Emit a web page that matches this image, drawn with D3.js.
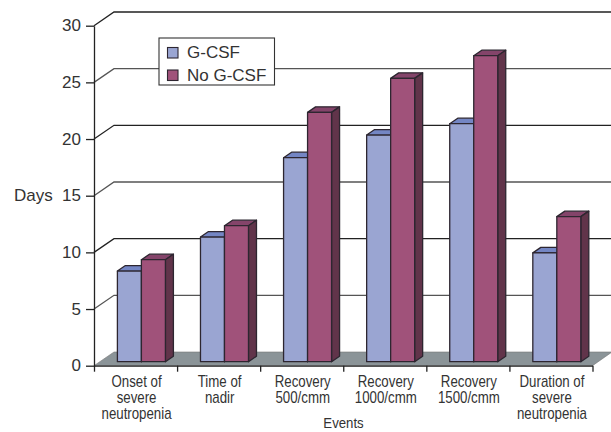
<!DOCTYPE html>
<html><head><meta charset="utf-8">
<script src="https://cdn.jsdelivr.net/npm/d3@7"></script>
<style>html,body{margin:0;padding:0;background:#fff}svg{display:block}text{font-family:"Liberation Sans",Arial,sans-serif;fill:#333}</style>
</head><body><div id="c"></div>
<script>
const categories = [["Onset of","severe","neutropenia"],["Time of","nadir"],["Recovery","500/cmm"],["Recovery","1000/cmm"],["Recovery","1500/cmm"],["Duration of","severe","neutropenia"]];
const gcsf = [8,11,18,20,21,9.6];
const noGcsf = [9,12,22,25,27,12.8];
const yTicks = [0,5,10,15,20,25,30];
const seriesNames = ["G-CSF","No G-CSF"];
const palette = [{front:"#9aa5d2",top:"#7486c4",side:"#7486c4"},{front:"#a0527a",top:"#84446a",side:"#61344a"}];

const W=611,H=432,x0=94,x1=592.5,yB=365.7,yT=25.7,wallDx=20,wallDy=13.7;
const svg=d3.select("#c").append("svg").attr("width",W).attr("height",H);
const y=d3.scaleLinear().domain([0,30]).range([yB,yT]);
const x=d3.scaleBand().domain(d3.range(categories.length)).range([x0,x1]).paddingInner(0);
const xEdge=d3.scaleLinear().domain([0,categories.length]).range([x0,x1]);
const barW=24,depthX=8,depthY=5.5,barInset=23.4,baseLift=4;

// floor
svg.append("polygon").attr("fill","#8b9498").attr("stroke","#777").attr("stroke-width",.6)
 .attr("points",[[x0,yB],[x0+wallDx,yB-wallDy],[W+1,yB-wallDy],[x1,yB]].join(" "));

// walls gridlines
svg.append("g").selectAll("polyline").data(yTicks.filter(d=>d>0)).join("polyline")
 .attr("fill","none").attr("stroke",d=>d%10==0?"#222":"#555").attr("stroke-width",1.3)
 .attr("points",d=>[[x0,y(d)],[x0+wallDx,y(d)-wallDy],[W,y(d)-wallDy]].join(" "));

// bars
const base=yB-baseLift;
function bar(g,bx,v,c){
  const top=y(v)-baseLift, st={stroke:"#2d2630","stroke-width":1.3,"stroke-linejoin":"round"};
  const add=(pts,f)=>{const p=g.append("polygon").attr("points",pts.join(" ")).attr("fill",f);Object.entries(st).forEach(([k,a])=>p.attr(k,a));};
  add([[bx,top],[bx+depthX,top-depthY],[bx+barW+depthX,top-depthY],[bx+barW,top]],c.top);
  add([[bx+barW,top],[bx+barW+depthX,top-depthY],[bx+barW+depthX,base-depthY],[bx+barW,base]],c.side);
  add([[bx,top],[bx+barW,top],[bx+barW,base],[bx,base]],c.front);
}
const gb=svg.append("g");
categories.forEach((c,i)=>{
  const bx=x(i)+barInset;
  bar(gb,bx,gcsf[i],palette[0]);
  bar(gb,bx+barW,noGcsf[i],palette[1]);
});

// axes
const ay=svg.append("g").attr("transform",`translate(${x0},0)`)
 .call(d3.axisLeft(y).tickValues(yTicks).tickSize(8).tickPadding(5).tickSizeOuter(0));
ay.selectAll("text").attr("font-size",17).style("font-family",'"Liberation Sans"').attr("dy","0.3em");
ay.selectAll("line,path").attr("stroke","#222").attr("stroke-width",1.3);
const ax=svg.append("g").attr("transform",`translate(0,${yB})`)
 .call(d3.axisBottom(xEdge).tickValues(d3.range(categories.length+1)).tickFormat("").tickSize(6).tickSizeOuter(0));
ax.selectAll("line,path").attr("stroke","#222").attr("stroke-width",1.3);

// category labels
const sx=0.83;
categories.forEach((lines,i)=>{
  const cx=x(i)+x.bandwidth()/2+1;
  lines.forEach((s,j)=>{
    svg.append("text").attr("transform",`translate(${cx},${386.5+j*16}) scale(${sx},1)`)
     .attr("text-anchor","middle").attr("font-size",16).text(s);
  });
});
svg.append("text").attr("transform",`translate(343.5,428) scale(0.88,1)`).attr("text-anchor","middle").attr("font-size",15).text("Events");
svg.append("text").attr("x",14).attr("y",201).attr("font-size",17).text("Days");

// legend
const lg=svg.append("g");
lg.append("rect").attr("x",159).attr("y",38).attr("width",115.5).attr("height",47).attr("fill","#fff").attr("stroke","#333").attr("stroke-width",1.1);
seriesNames.forEach((n,i)=>{
  const ly=47.5+i*22.5;
  lg.append("rect").attr("x",167.5).attr("y",ly).attr("width",10.5).attr("height",10.5).attr("fill",palette[i].front).attr("stroke","#2d2630").attr("stroke-width",1.1);
  lg.append("text").attr("x",187).attr("y",ly+10.5).attr("font-size",17).text(n);
});
</script></body></html>
